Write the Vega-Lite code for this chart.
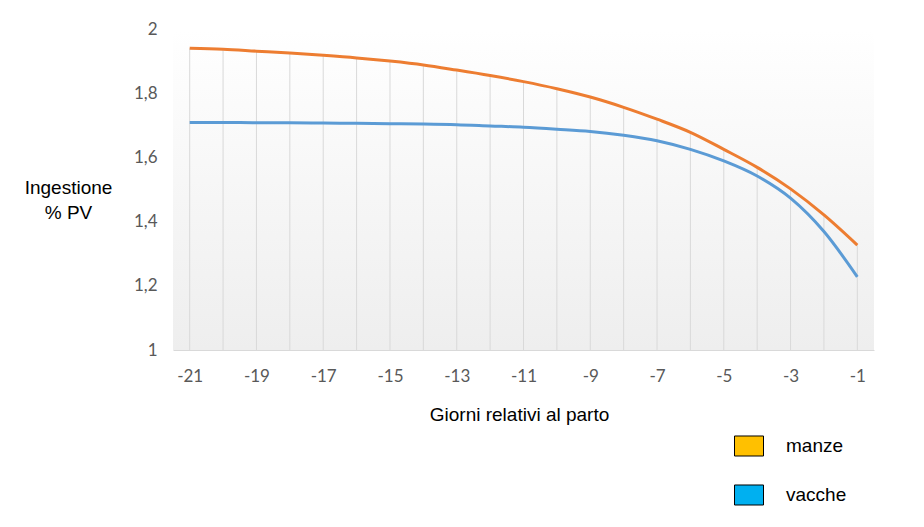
{
  "$schema": "https://vega.github.io/schema/vega-lite/v6.json",
  "width": 701,
  "height": 321,
  "autosize": "none",
  "padding": {"left": 173, "top": 29, "right": 50, "bottom": 177},
  "background": "#ffffff",
  "config": {
    "view": {
      "stroke": null,
      "fill": {"gradient": "linear", "x1": 0, "y1": 0, "x2": 0, "y2": 1, "stops": [{"offset": 0, "color": "#ffffff"}, {"offset": 1, "color": "#eeeeee"}]}
    }
  },
  "data": {
    "values": [
      {"giorno": -21, "serie": "manze", "valore": 1.940},
      {"giorno": -20, "serie": "manze", "valore": 1.937},
      {"giorno": -19, "serie": "manze", "valore": 1.931},
      {"giorno": -18, "serie": "manze", "valore": 1.925},
      {"giorno": -17, "serie": "manze", "valore": 1.918},
      {"giorno": -16, "serie": "manze", "valore": 1.910},
      {"giorno": -15, "serie": "manze", "valore": 1.900},
      {"giorno": -14, "serie": "manze", "valore": 1.888},
      {"giorno": -13, "serie": "manze", "valore": 1.872},
      {"giorno": -12, "serie": "manze", "valore": 1.855},
      {"giorno": -11, "serie": "manze", "valore": 1.836},
      {"giorno": -10, "serie": "manze", "valore": 1.814},
      {"giorno": -9, "serie": "manze", "valore": 1.788},
      {"giorno": -8, "serie": "manze", "valore": 1.756},
      {"giorno": -7, "serie": "manze", "valore": 1.719},
      {"giorno": -6, "serie": "manze", "valore": 1.678},
      {"giorno": -5, "serie": "manze", "valore": 1.625},
      {"giorno": -4, "serie": "manze", "valore": 1.569},
      {"giorno": -3, "serie": "manze", "valore": 1.502},
      {"giorno": -2, "serie": "manze", "valore": 1.421},
      {"giorno": -1, "serie": "manze", "valore": 1.327},
      {"giorno": -21, "serie": "vacche", "valore": 1.709},
      {"giorno": -20, "serie": "vacche", "valore": 1.709},
      {"giorno": -19, "serie": "vacche", "valore": 1.708},
      {"giorno": -18, "serie": "vacche", "valore": 1.708},
      {"giorno": -17, "serie": "vacche", "valore": 1.707},
      {"giorno": -16, "serie": "vacche", "valore": 1.706},
      {"giorno": -15, "serie": "vacche", "valore": 1.705},
      {"giorno": -14, "serie": "vacche", "valore": 1.704},
      {"giorno": -13, "serie": "vacche", "valore": 1.702},
      {"giorno": -12, "serie": "vacche", "valore": 1.698},
      {"giorno": -11, "serie": "vacche", "valore": 1.694},
      {"giorno": -10, "serie": "vacche", "valore": 1.688},
      {"giorno": -9, "serie": "vacche", "valore": 1.681},
      {"giorno": -8, "serie": "vacche", "valore": 1.669},
      {"giorno": -7, "serie": "vacche", "valore": 1.652},
      {"giorno": -6, "serie": "vacche", "valore": 1.625},
      {"giorno": -5, "serie": "vacche", "valore": 1.589},
      {"giorno": -4, "serie": "vacche", "valore": 1.542},
      {"giorno": -3, "serie": "vacche", "valore": 1.473},
      {"giorno": -2, "serie": "vacche", "valore": 1.369},
      {"giorno": -1, "serie": "vacche", "valore": 1.228}
    ]
  },
  "encoding": {
    "x": {
      "field": "giorno",
      "type": "quantitative",
      "scale": {"domain": [-21.5, -0.5], "nice": false, "zero": false},
      "axis": {
        "values": [-21, -19, -17, -15, -13, -11, -9, -7, -5, -3, -1],
        "labelExpr": "'-' + abs(datum.value)",
        "grid": false,
        "ticks": false,
        "domainColor": "#d9d9d9",
        "domainWidth": 1,
        "labelFont": "Lato",
        "labelFontSize": 17,
        "labelColor": "#595959",
        "labelPadding": 18,
        "labelFlush": false,
        "title": "Giorni relativi al parto",
        "titleFont": "Liberation Sans",
        "titleFontSize": 19,
        "titleFontWeight": "normal",
        "titleColor": "#000000",
        "titleBaseline": "alphabetic",
        "titleX": 346,
        "titleY": 70
      }
    },
    "y": {
      "field": "valore",
      "type": "quantitative",
      "scale": {"domain": [1, 2], "nice": false, "zero": false},
      "axis": {
        "values": [1, 1.2, 1.4, 1.6, 1.8, 2],
        "labelExpr": "replace(format(datum.value, '.1~f'), '.', ',')",
        "grid": false,
        "ticks": false,
        "domain": false,
        "labelFont": "Lato",
        "labelFontSize": 17,
        "labelColor": "#595959",
        "labelPadding": 16,
        "title": ["Ingestione", "% PV"],
        "titleAngle": 0,
        "titleAlign": "center",
        "titleBaseline": "alphabetic",
        "titleFont": "Liberation Sans",
        "titleFontSize": 19,
        "titleFontWeight": "normal",
        "titleColor": "#000000",
        "titleLineHeight": 25,
        "titleX": -105,
        "titleY": 164
      }
    }
  },
  "layer": [
    {
      "transform": [{"filter": "datum.serie === 'manze'"}],
      "mark": {"type": "rule", "color": "#d9d9d9", "strokeWidth": 1},
      "encoding": {
        "y2": {"datum": 1}
      }
    },
    {
      "mark": {"type": "line", "strokeWidth": 3, "interpolate": "monotone"},
      "encoding": {
        "stroke": {
          "field": "serie",
          "type": "nominal",
          "scale": {"range": ["#ED7D31", "#5B9BD5"]},
          "legend": null
        }
      }
    },
    {
      "mark": {"type": "square", "size": 0, "strokeWidth": 0},
      "encoding": {
        "fill": {
          "field": "serie",
          "type": "nominal",
          "scale": {"domain": ["manze", "vacche"], "range": ["#FFC000", "#00B0F0"]},
          "legend": {
            "title": null,
            "orient": "none",
            "legendX": 561,
            "legendY": 402,
            "padding": 0,
            "symbolType": "M-1,-0.69L1,-0.69L1,0.69L-1,0.69Z",
            "symbolSize": 841,
            "symbolOpacity": 1,
            "symbolStrokeColor": "#000000",
            "symbolStrokeWidth": 1,
            "labelFont": "Liberation Sans",
            "labelFontSize": 19,
            "labelColor": "#000000",
            "labelOffset": 22,
            "rowPadding": 21
          }
        }
      }
    }
  ]
}
